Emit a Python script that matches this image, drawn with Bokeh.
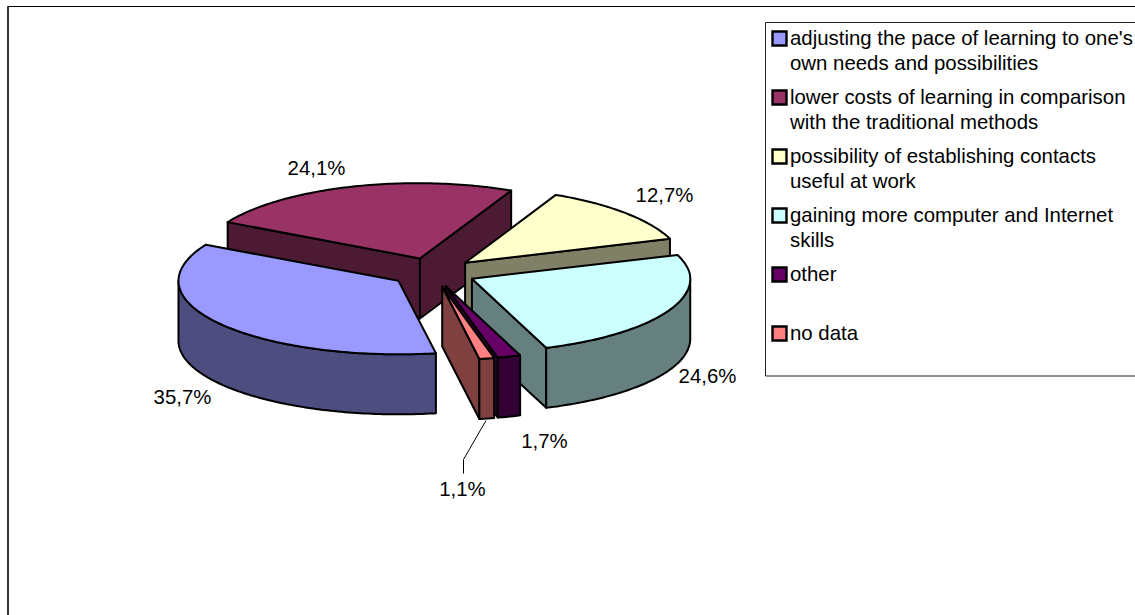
import math
from bokeh.plotting import figure
from bokeh.models import ColumnDataSource
from bokeh.core.properties import value
from bokeh.embed import file_html
from bokeh.resources import INLINE

# ---- data ----
categories = [
    "adjusting the pace of learning to one's\nown needs and possibilities",
    "lower costs of learning in comparison\nwith the traditional methods",
    "possibility of establishing contacts\nuseful at work",
    "gaining more computer and Internet\nskills",
    "other",
    "no data",
]
shares = [35.7, 24.1, 12.7, 24.6, 1.7, 1.1]
share_labels = ["35,7%", "24,1%", "12,7%", "24,6%", "1,7%", "1,1%"]
top_colors = ["#9999FF", "#993366", "#FFFFCC", "#CCFFFF", "#660066", "#FF8080"]
side_colors = ["#4D4D80", "#4D1A33", "#808066", "#668080", "#330033", "#804040"]

# ---- layout (page pixels) ----
W, H = 1135, 615
CX, CY = 433.0, 272.0
R, K, DEPTH, EXPLODE = 220.0, 0.334, 60.0, 43.0
START = 170.2
VX, PERSP, BACK_Y = 220.0, 0.00017, 1.025   # slight perspective of the far half
RIGHT_SHRINK = 0.0077
FONT = "Liberation Sans"
FS = "20.4px"
LABEL_XY = [(182, 396), (316, 167), (664, 194), (707, 375), (544, 440), (462, 488)]
DRAW_ORDER = [1, 2, 3, 0, 4, 5]

p = figure(width=W, height=H, x_range=(0, W), y_range=(H, 0), toolbar_location=None,
           output_backend="svg", min_border=0,
           outline_line_color=None, background_fill_color="white", border_fill_color="white")
p.axis.visible = False
p.grid.visible = False


def warp(x, y):
    if x > CX:
        x -= (x - CX) * RIGHT_SHRINK
    dy = y - CY
    if dy < 0:
        return VX + (x - VX) * (1 + PERSP * dy), CY + dy * BACK_Y
    return x, y


def project(ax, ay, ang, r=R):
    t = math.radians(ang)
    return warp(ax + r * math.sin(t), ay - r * K * math.cos(t))


total = sum(shares)
spans = []
a = START
for s in shares:
    b = a + 360.0 * s / total
    spans.append((a, b))
    a = b

xs, ys, fills = [], [], []


def face(px, py, color):
    xs.append(px)
    ys.append(py)
    fills.append(color)


for i in DRAW_ORDER:
    a0, a1 = spans[i]
    mid = (a0 + a1) / 2
    t = math.radians(mid)
    ax0 = CX + EXPLODE * math.sin(t)
    ay0 = CY - EXPLODE * K * math.cos(t)
    ax, ay = warp(ax0, ay0)
    n = max(4, int(a1 - a0))
    arc = [project(ax0, ay0, a0 + (a1 - a0) * j / n) for j in range(n + 1)]
    mx, my = project(ax0, ay0, mid)
    # radial walls that face the viewer
    for ang in (a0, a1):
        ex, ey = project(ax0, ay0, ang)
        side_in = (ex - ax) * (my - ay) - (ey - ay) * (mx - ax)
        side_down = (ex - ax) * 1.0
        if side_in * side_down < 0:
            face([ax, ex, ex, ax], [ay, ey, ey + DEPTH, ay + DEPTH], side_colors[i])
    # curved outer wall: only the part on the near half of the ellipse
    near = []
    for k in range(int(a0), int(a1) + 2):
        c = min(max(k, a0), a1)
        if 90 <= (c % 360) <= 270:
            near.append(project(ax0, ay0, c))
    if near:
        fx = [q[0] for q in near]
        fy = [q[1] for q in near]
        face(fx + fx[::-1], fy + [v + DEPTH for v in fy[::-1]], side_colors[i])
    # top
    face([ax] + [q[0] for q in arc], [ay] + [q[1] for q in arc], top_colors[i])

p.patches(xs, ys, fill_color=fills, line_color="black", line_width=2, line_join="round")

# chart frame (runs off the right and bottom edges)
p.line([7.5, 7.5], [H, 6], line_color="#333333", line_width=2)
p.line([7, W], [6, 6], line_color="black", line_width=1)

# legend box
p.line([W, 765, 765, W], [22, 22, 375.5, 375.5], line_color="#222222", line_width=1)

row_y = [38, 97, 156, 215, 274, 333]
line_gap = 25.5
sw = ColumnDataSource(dict(x=[779] * 6, y=row_y, c=top_colors))
p.rect("x", "y", width=14, height=14, source=sw, fill_color="c", line_color="black",
       line_width=2.4, line_join="miter")
tx, ty, tt = [], [], []
for y0, cat in zip(row_y, categories):
    for j, line in enumerate(cat.split("\n")):
        tx.append(789.5)
        ty.append(y0 - 0.7 + j * line_gap)
        tt.append(line)
p.text(tx, ty, text=tt, text_font=value(FONT), text_font_size=value(FS),
       text_color="black", text_align="left", text_baseline="middle")

# data labels
p.text([q[0] for q in LABEL_XY], [q[1] for q in LABEL_XY], text=share_labels,
       text_font=value(FONT), text_font_size=value(FS), text_color="black",
       text_align="center", text_baseline="middle")

# leader line of the smallest slice
p.line([485.5, 463, 463], [420, 459, 473], line_color="black", line_width=1)

open("out.html", "w").write(file_html(p, INLINE))
